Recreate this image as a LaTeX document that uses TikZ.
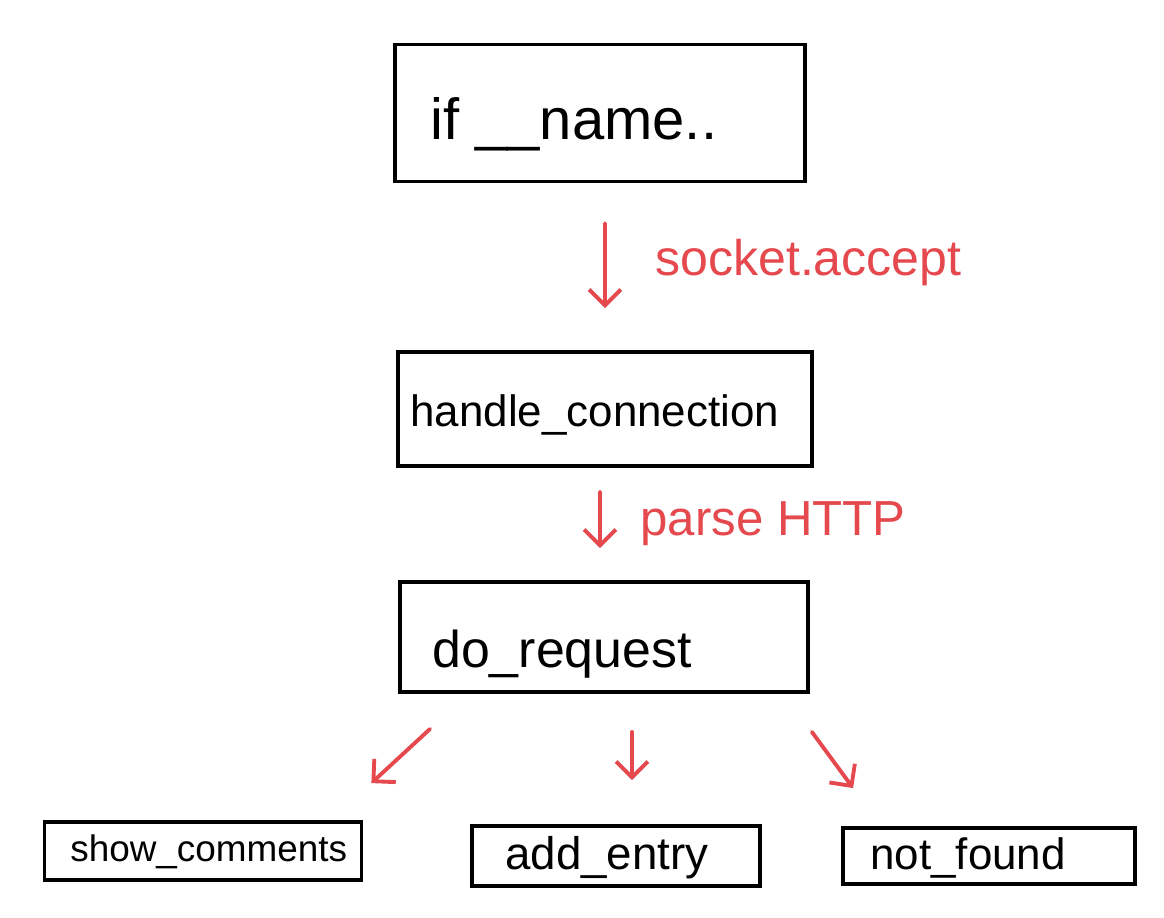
\documentclass[tikz,border=0pt]{standalone}
\usepackage{fontspec}
\setmainfont{Liberation Sans}
\usetikzlibrary{arrows.meta}
\definecolor{pen}{HTML}{E5484D}
\begin{document}
\begin{tikzpicture}[x=0.02cm,y=-0.02cm,
  box/.style={draw=black, line width=2.2pt, rectangle, inner sep=0pt},
  rarr/.style={draw=pen, line width=2.2pt, line cap=round, line join=round,
    -{Straight Barb[length=9pt,width=18pt,line width=2.2pt]}},
  lbl/.style={text=pen, anchor=base west, inner sep=0pt},
  txt/.style={anchor=base west, inner sep=0pt}]
\useasboundingbox (0,0) rectangle (1164,918);
\fill[white] (0,0) rectangle (1164,918);
% boxes
\node[box, minimum width=8.2cm,  minimum height=2.74cm] (b1) at (600,113) {};
\node[box, minimum width=8.28cm, minimum height=2.28cm] (b2) at (605,409) {};
\node[box, minimum width=8.16cm, minimum height=2.2cm]  (b3) at (604,637) {};
\node[box, minimum width=6.34cm, minimum height=1.16cm] (b4) at (203,851) {};
\node[box, minimum width=5.76cm, minimum height=1.2cm]  (b5) at (616,856) {};
\node[box, minimum width=5.84cm, minimum height=1.12cm] (b6) at (989,856) {};
% texts
\node[txt, font=\fontsize{33}{36}\selectfont] (t1) at (430,140) {if \_\_name..};
\node[txt, font=\fontsize{25}{28}\selectfont] (t2) at (410,427) {handle\_connection};
\node[txt, font=\fontsize{29.5}{32}\selectfont] (t3) at (432,668) {do\_request};
\node[txt, font=\fontsize{21}{24}\selectfont] (t4) at (70,862) {show\_comments};
\node[txt, font=\fontsize{26}{28}\selectfont] (t5) at (505,869) {add\_entry};
\node[txt, font=\fontsize{25}{28}\selectfont] (t6) at (870,869) {not\_found};
% red arrows
\draw[rarr, shorten <=0.8cm, shorten >=0.84cm] ([xshift=0.1cm]b1.south) -- (b2.north);
\draw[rarr, shorten <=0.48cm, shorten >=0.64cm] ([xshift=-0.1cm]b2.south) -- ([xshift=-0.08cm]b3.north);
\draw[rarr] ([shift={(32,35)}]b3.south west) -- ([shift={(8,-37)}]b4.north east);
\draw[rarr] ([shift={(28,38)}]b3.south) -- ([shift={(16,-44)}]b5.north);
\draw[rarr] ([shift={(2,38)}]b3.south east) -- ([shift={(12,-38)}]b6.north west);
% red labels
\node[lbl, font=\fontsize{28.5}{31}\selectfont] (l1) at (655,276) {socket.accept};
\node[lbl, font=\fontsize{28}{31}\selectfont] (l2) at (640,536) {parse HTTP};
\end{tikzpicture}
\end{document}
